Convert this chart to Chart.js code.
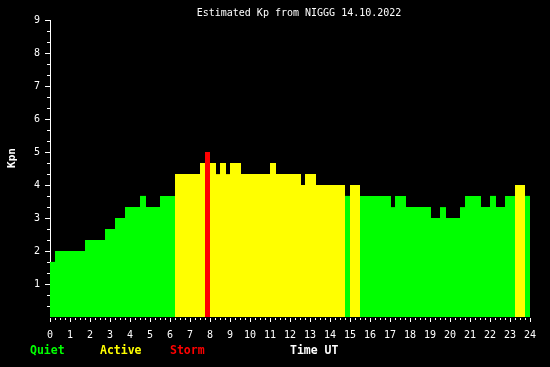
<!DOCTYPE html>
<html><head><meta charset="utf-8">
<script src="https://cdn.jsdelivr.net/npm/chart.js@4"></script>
<style>html,body{margin:0;padding:0;background:#000;overflow:hidden}canvas{display:block}</style>
</head><body>
<canvas id="c" width="550" height="367"></canvas>
<script>
const chartTitle = 'Estimated Kp from NIGGG 14.10.2022';
const yAxisTitle = 'Kpn';
const xAxisTitle = 'Time UT';
const legendLabels = ['Quiet', 'Active', 'Storm'];
const legendColors = ['#00ff00', '#ffff00', '#ff0000'];

// time segments (hours UT) and Kp value of each
const segStart = [0, 0.25, 1.75, 2.75, 3.25, 3.75, 4.5, 4.8, 5.5, 6.25, 7.5, 7.75, 8.0, 8.3, 8.5, 8.8, 9.0, 9.55, 11.0, 11.3,
                  12.55, 12.75, 13.3, 14.75, 15.0, 15.5, 17.05, 17.25, 17.8, 19.05, 19.5, 19.8, 20.5, 20.75, 21.55, 22.0, 22.3, 22.75, 23.25, 23.75];
const segEnd   = [0.25, 1.75, 2.75, 3.25, 3.75, 4.5, 4.8, 5.5, 6.25, 7.5, 7.75, 8.0, 8.3, 8.5, 8.8, 9.0, 9.55, 11.0, 11.3, 12.55,
                  12.75, 13.3, 14.75, 15.0, 15.5, 17.05, 17.25, 17.8, 19.05, 19.5, 19.8, 20.5, 20.75, 21.55, 22.0, 22.3, 22.75, 23.25, 23.75, 24];
const kpValues = [1.67, 2, 2.33, 2.67, 3, 3.33, 3.67, 3.33, 3.67, 4.33, 4.67, 5, 4.67, 4.33, 4.67, 4.33, 4.67, 4.33, 4.67, 4.33,
                  4, 4.33, 4, 3.67, 4, 3.67, 3.33, 3.67, 3.33, 3, 3.33, 3, 3.33, 3.67, 3.33, 3.67, 3.33, 3.67, 4, 3.67];

const xTickLabels = ['0','1','2','3','4','5','6','7','8','9','10','11','12','13','14','15','16','17','18','19','20','21','22','23','24'];
const yTickLabels = ['','1','2','3','4','5','6','7','8','9'];

function colorFor(v) {
  if (v >= 5) return legendColors[2];
  if (v >= 4) return legendColors[1];
  return legendColors[0];
}

const datasets = segStart.map((s, i) => ({
  data: [{x: s, y: kpValues[i]}, {x: segEnd[i], y: kpValues[i]}],
  fill: 'origin',
  backgroundColor: colorFor(kpValues[i]),
  borderColor: 'rgba(0,0,0,0)',
  borderWidth: 0,
  pointRadius: 0,
  tension: 0
}));

const MONO = '"DejaVu Sans Mono", "Liberation Mono", monospace';

const overlay = {
  id: 'overlay',
  beforeDatasetsDraw(chart) {
    const {ctx, scales: {x, y}} = chart;
    ctx.save();
    ctx.fillStyle = '#ffffff';
    const x0 = Math.round(x.getPixelForValue(0));
    const yt = Math.round(y.getPixelForValue(9));
    const yb = Math.round(y.getPixelForValue(0));
    ctx.fillRect(x0, yt, 1, yb - yt);
    ctx.restore();
  },
  afterDraw(chart) {
    const {ctx, scales: {x, y}} = chart;
    ctx.save();
    ctx.fillStyle = '#ffffff';
    const x0 = Math.round(x.getPixelForValue(0));
    const yb = Math.round(y.getPixelForValue(0));
    // y ticks every 1/3
    for (let k = 1; k <= 27; k++) {
      const py = Math.round(y.getPixelForValue(k / 3));
      const len = (k % 3 === 0) ? 5 : 3;
      ctx.fillRect(x0 - len, py, len, 1);
    }
    // x ticks every quarter hour
    for (let k = 0; k <= 96; k++) {
      const px = Math.round(x.getPixelForValue(k / 4));
      const len = (k % 4 === 0) ? 4 : 2;
      ctx.fillRect(px, yb + 1, 1, len);
    }
    // title
    ctx.font = '10px ' + MONO;
    ctx.textAlign = 'center';
    ctx.textBaseline = 'alphabetic';
    ctx.fillText(chartTitle, 299, 16);
    // y axis title
    ctx.save();
    ctx.translate(12, 158);
    ctx.rotate(-Math.PI / 2);
    ctx.font = 'bold 11px ' + MONO;
    ctx.textAlign = 'center';
    ctx.textBaseline = 'middle';
    ctx.fillText(yAxisTitle, 0, 0);
    ctx.restore();
    // legend row
    ctx.font = 'bold 11.5px ' + MONO;
    ctx.textAlign = 'left';
    ctx.textBaseline = 'alphabetic';
    const lx = [30, 100, 170];
    legendLabels.forEach((t, i) => {
      ctx.fillStyle = legendColors[i];
      ctx.fillText(t, lx[i], 354);
    });
    ctx.fillStyle = '#ffffff';
    ctx.fillText(xAxisTitle, 290, 354);
    ctx.restore();
  }
};

new Chart(document.getElementById('c'), {
  type: 'line',
  data: {datasets},
  options: {
    responsive: false,
    devicePixelRatio: 1,
    animation: false,
    events: [],
    layout: {padding: {top: 20, right: 20, bottom: 0, left: 0}},
    plugins: {legend: {display: false}, tooltip: {enabled: false}, title: {display: false}},
    scales: {
      x: {
        type: 'linear', position: 'bottom', min: 0, max: 24,
        grid: {display: false, drawTicks: false}, border: {display: false},
        ticks: {
          stepSize: 1, autoSkip: false, maxRotation: 0, minRotation: 0,
          color: '#ffffff', font: {family: MONO, size: 10}, padding: 12,
          callback: (v, i) => xTickLabels[i]
        },
        afterFit: s => { s.height = 50; }
      },
      y: {
        type: 'linear', position: 'left', min: 0, max: 9,
        grid: {display: false, drawTicks: false}, border: {display: false},
        ticks: {
          stepSize: 1, color: '#ffffff', font: {family: MONO, size: 10}, padding: 10,
          callback: (v, i) => yTickLabels[i]
        },
        afterFit: s => { s.width = 50; }
      }
    }
  },
  plugins: [overlay]
});
</script>
</body></html>
